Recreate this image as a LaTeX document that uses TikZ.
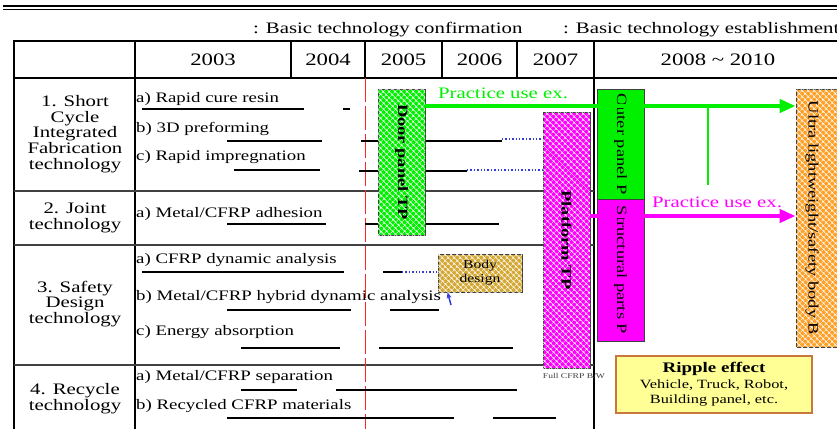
\documentclass[tikz,border=0pt]{standalone}
\usepackage{fontspec}
\setmainfont{Liberation Serif}[FakeStretch=1.3]
\usetikzlibrary{arrows.meta,patterns.meta}

\definecolor{brightgreen}{RGB}{0,240,0}
\definecolor{brightmagenta}{RGB}{255,0,255}
\definecolor{hatchorange}{RGB}{255,160,40}
\definecolor{bodygold}{RGB}{212,168,52}
\definecolor{rippleyellow}{RGB}{255,255,150}
\definecolor{rippleedge}{RGB}{200,120,60}
\definecolor{dotblue}{RGB}{50,60,220}

\begin{document}
\begin{tikzpicture}[x=1pt, y=-1pt,
  rule/.style={line width=1.1pt},
  gantt/.style={line width=2pt},
  link/.style={dotblue, dotted, line width=1.4pt},
  hatched/.style={draw=black!75, line width=0.8pt, inner sep=0pt,
    postaction={pattern={Hatch[angle=45,distance=4pt,line width=0.6pt]}, pattern color=white}},
  solidbox/.style={draw=black!75, line width=0.8pt, inner sep=0pt},
  tpfont/.style={font=\fontsize{14.2}{15}\selectfont},
  item/.style={anchor=west, inner sep=0pt, text height=10pt, text depth=3pt,
    font=\fontsize{14.5}{15}\selectfont},
  rowhead/.style={align=center, inner sep=0pt, font=\fontsize{16}{15.7}\selectfont},
  year/.style={font=\fontsize{17.5}{18}\selectfont},
  legend/.style={anchor=west, inner sep=0pt, font=\fontsize{16}{17}\selectfont},
  practice/.style={inner sep=0pt, font=\fontsize{16}{17}\selectfont},
  usearrow/.style={line width=4pt, -{Triangle[length=16pt,width=13pt]}},
]
  \useasboundingbox (0,0) rectangle (837,428);

  % Title rule
  \draw[line width=2.3pt] (3,6.2) -- (840,6.2);
  \draw[line width=0.8pt] (3,9.3) -- (840,9.3);

  % Legend
  \node[legend] (conf) at (253,30) {: Basic technology confirmation};
  \node[legend] (estab) at (563,30) {: Basic technology establishment};

  % Table frame
  \draw[rule] (840,41) -- (14,41) -- (14,430);
  \draw[rule] (14,78) -- (840,78);
  \draw[rule] (135,41) -- (135,430);
  \draw[rule] (291,41) -- (291,78);
  \draw[rule] (365,41) -- (365,78);
  \draw[rule] (442,41) -- (442,78);
  \draw[rule] (517,41) -- (517,78);
  \draw[line width=1.5pt] (594,41) -- (594,430);
  \draw[rule, black!75] (14,191) -- (594,191);
  \draw[rule, black!75] (14,245) -- (594,245);
  \draw[rule, black!75] (14,365) -- (594,365);

  % Today line
  \draw[red!85, line width=0.9pt, dash pattern=on 24pt off 4pt] (365,78) -- (365,430);

  % Years
  \node[year] (y03) at (213,60) {2003};
  \node[year] (y04) at (328,60) {2004};
  \node[year] (y05) at (403.5,60) {2005};
  \node[year] (y06) at (479.5,60) {2006};
  \node[year] (y07) at (555.5,60) {2007};
  \node[year] (y08) at (718,60) {2008 \textasciitilde{} 2010};

  % Row headings
  \node[rowhead] (r1) at (75,134) {1. Short\\Cycle\\Integrated\\Fabrication\\technology};
  \node[rowhead] (r2) at (75,218) {2. Joint\\technology};
  \node[rowhead] (r3) at (75,304) {3. Safety\\Design\\technology};
  \node[rowhead] (r4) at (75,399) {4. Recycle\\technology};

  % Items
  \node[item] (s1a) at (136,99) {a) Rapid cure resin};
  \node[item] (s1b) at (136,129) {b) 3D preforming};
  \node[item] (s1c) at (136,157) {c) Rapid impregnation};
  \node[item] (s2a) at (136,214) {a) Metal/CFRP adhesion};
  \node[item] (s3a) at (136,260) {a) CFRP dynamic analysis};
  \node[item] (s3b) at (136,297) {b) Metal/CFRP hybrid dynamic analysis};
  \node[item] (s3c) at (136,332) {c) Energy absorption};
  \node[item] (s4a) at (136,377) {a) Metal/CFRP separation};
  \node[item] (s4b) at (136,406) {b) Recycled CFRP materials};

  % Schedule bars
  \draw[gantt] (142,109) -- (304,109);
  \draw[gantt] (343,109) -- (350,109);
  \draw[gantt] (227,141) -- (322,141);
  \draw[gantt] (361,141) -- (502,141);
  \draw[gantt] (234,170) -- (320,170);
  \draw[gantt] (359,171) -- (467,171);
  \draw[gantt] (227,224) -- (326,224);
  \draw[gantt] (365,224) -- (499,224);
  \draw[gantt] (142,272) -- (344,272);
  \draw[gantt] (383,272) -- (402,272);
  \draw[gantt] (227,310) -- (351,310);
  \draw[gantt] (390,310) -- (439,310);
  \draw[gantt] (241,348) -- (340,348);
  \draw[gantt] (379,348) -- (513,348);
  \draw[gantt] (241,390) -- (297,390);
  \draw[gantt] (336,390) -- (517,390);
  \draw[gantt] (227,418) -- (454,418);
  \draw[gantt] (493,418) -- (556,418);

  % Prototype boxes
  \node[hatched, fill=brightgreen, tpfont, minimum width=47pt, minimum height=146pt]
    (door) at (401.5,162) {\rotatebox{-90}{\bfseries Door panel TP}};
  \node[hatched, fill=brightmagenta, tpfont, minimum width=47pt, minimum height=256pt]
    (platform) at (566.5,240) {\rotatebox{-90}{\bfseries Platform TP}};
  \node[solidbox, fill=brightgreen, tpfont, minimum width=47pt, minimum height=110pt]
    (outer) at (620.5,144) {\rotatebox{-90}{Outer panel P}};
  \node[solidbox, fill=brightmagenta, tpfont, minimum width=47pt, minimum height=142pt]
    (struct) at (620.5,270) {\rotatebox{-90}{Structural parts P}};
  \node[hatched, fill=hatchorange, minimum width=54pt, minimum height=258pt]
    (ultra) at (823,218) {};
  \node[tpfont, inner sep=0pt] (ultratext) at (812,218)
    {\rotatebox{-90}{Ultra lightweight/safety body B}};
  \node[hatched, fill=bodygold, minimum width=84pt, minimum height=38pt, align=center,
    font=\fontsize{12}{14}\selectfont] (body) at (480,273) {Body\\design};
  \node[font=\fontsize{7.4}{8}\selectfont, text=black!75, inner sep=0pt]
    (fullbw) at (574,376) {Full CFRP B/W};

  % Practical use arrows
  \coordinate (gy) at (0,106);
  \coordinate (my) at (0,216);
  \draw[usearrow, brightgreen] (door.east |- gy) -- (ultra.west |- gy);
  \draw[brightgreen, line width=2pt] (708,106) -- (708,185);
  \draw[usearrow, brightmagenta] (platform.east |- my) -- (ultra.west |- my);
  \node[practice, text=brightgreen] (pgreen) at (503,93) {Practice use ex.};
  \node[practice, text=brightmagenta] (pmagenta) at (717,202) {Practice use ex.};

  % Links into the prototypes
  \draw[link] (502,139) -- (502,139 -| platform.west);
  \draw[link] (467,170) -- (467,170 -| platform.west);
  \draw[link] (402,272) -- (402,272 -| body.west);
  \draw[dotblue, line width=1.5pt, -{Stealth[length=6pt,width=5pt]}]
    (451,305) -- ([xshift=10pt]body.south west);

  % Ripple effect
  \node[draw=rippleedge, line width=1.2pt, fill=rippleyellow, minimum width=196pt,
    minimum height=57pt, align=center, inner sep=0pt,
    font=\fontsize{12.6}{15.5}\selectfont] (ripple) at (714,384.5)
    {{\bfseries\fontsize{14.6}{16}\selectfont Ripple effect}\\Vehicle, Truck, Robot,\\Building panel, etc.};
\end{tikzpicture}
\end{document}
